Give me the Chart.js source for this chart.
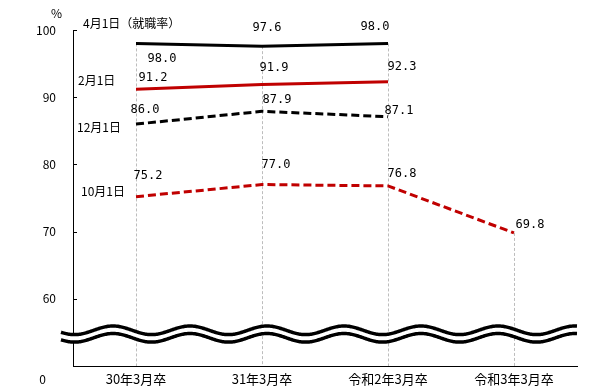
<!DOCTYPE html>
<html>
<head>
<meta charset="utf-8">
<script src="https://cdn.jsdelivr.net/npm/chart.js@4"></script>
<style>
  body { margin: 0; background: #fff; }
  #wrap { width: 613px; height: 391px; position: relative; }
</style>
</head>
<body>
<div id="wrap"><canvas id="rateChart"></canvas></div>
<script>
// data
const categories = ['30年3月卒', '31年3月卒', '令和2年3月卒', '令和3年3月卒'];
const apr1 = [98.0, 97.6, 98.0];
const feb1 = [91.2, 91.9, 92.3];
const dec1 = [86.0, 87.9, 87.1];
const oct1 = [75.2, 77.0, 76.8, 69.8];
const seriesNames = ['4月1日（就職率）', '2月1日', '12月1日', '10月1日'];
const yTicks = [60, 70, 80, 90, 100];
const yBreakValue = 50;   // bottom of the broken axis, labelled "0"
const unitLabel = '%';

const JP = "'Noto Sans CJK JP', sans-serif";
const NUM = "'DejaVu Sans Mono', monospace";
const RED = '#c00000';

// where each value label / series name sits next to its point
const valueOffsets = [
    [[26, 15], [5, -18], [-13, -17]],
    [[17, -11], [12, -17], [14, -15]],
    [[9, -14], [15, -11], [11, -6]],
    [[12, -21], [14, -20], [14, -12], [16, -8]]
];
const nameOffsets = [[-53, -20], [-58, -9], [-59, 3], [-55, -5]];

// vertical dotted drop lines from the highest point to the axis
const dropLines = {
    id: 'dropLines',
    beforeDatasetsDraw(chart) {
        const { ctx, chartArea, scales } = chart;
        ctx.save();
        ctx.strokeStyle = '#bdbdbd';
        ctx.lineWidth = 1;
        ctx.setLineDash([3, 2]);
        categories.forEach((c, i) => {
            const vals = chart.data.datasets.map(d => d.data[i]).filter(v => v != null);
            if (!vals.length) return;
            const x = Math.round(scales.x.getPixelForValue(i)) + 0.5;
            ctx.beginPath();
            ctx.moveTo(x, scales.y.getPixelForValue(Math.max(...vals)));
            ctx.lineTo(x, chartArea.bottom);
            ctx.stroke();
        });
        ctx.restore();
    }
};

// value labels, series names, inward ticks, "0" and "%", the wavy break
const decorations = {
    id: 'decorations',
    afterDraw(chart) {
        const { ctx, chartArea, scales } = chart;
        ctx.save();
        ctx.fillStyle = '#000';

        // value labels
        ctx.font = '12px ' + NUM;
        ctx.textAlign = 'center';
        ctx.textBaseline = 'middle';
        chart.data.datasets.forEach((ds, di) => {
            const meta = chart.getDatasetMeta(di);
            meta.data.forEach((pt, i) => {
                const o = valueOffsets[di][i];
                ctx.fillText(ds.data[i].toFixed(1), pt.x + o[0], pt.y + o[1]);
            });
        });

        // series names
        ctx.font = '12px ' + JP;
        ctx.textAlign = 'left';
        chart.data.datasets.forEach((ds, di) => {
            const pt = chart.getDatasetMeta(di).data[0];
            const o = nameOffsets[di];
            ctx.fillText(ds.label, pt.x + o[0], pt.y + o[1]);
        });

        // inward tick marks on y axis
        ctx.strokeStyle = '#000';
        ctx.lineWidth = 1;
        yTicks.forEach(v => {
            const y = Math.round(scales.y.getPixelForValue(v)) + 0.5;
            ctx.beginPath();
            ctx.moveTo(chartArea.left, y);
            ctx.lineTo(chartArea.left + 4, y);
            ctx.stroke();
        });

        // "0" under the break and the unit
        ctx.font = '12px ' + JP;
        ctx.textAlign = 'right';
        ctx.fillText('0', chartArea.left - 27, scales.y.getPixelForValue(yBreakValue) + 13);
        ctx.fillText(unitLabel, chartArea.left - 11, 13);

        // wavy axis break
        const x0 = chartArea.left - 12, x1 = chartArea.right;
        const yc = chartArea.bottom - 35.7, amp = 4.3, period = 77, gap = 7.5;
        const peakX = chartArea.left + 40;
        const wave = (x, dy) => yc + dy - amp * Math.cos(2 * Math.PI * (x - peakX) / period);
        ctx.beginPath();
        for (let x = x0; x <= x1; x += 1) ctx.lineTo(x, wave(x, 0));
        for (let x = x1; x >= x0; x -= 1) ctx.lineTo(x, wave(x, gap));
        ctx.closePath();
        ctx.fillStyle = '#fff';
        ctx.fill();
        ctx.strokeStyle = '#000';
        ctx.lineWidth = 3.5;
        [0, gap].forEach(dy => {
            ctx.beginPath();
            for (let x = x0; x <= x1; x += 1) ctx.lineTo(x, wave(x, dy));
            ctx.stroke();
        });
        ctx.restore();
    }
};

const ctx = document.getElementById('rateChart').getContext('2d');
new Chart(ctx, {
    type: 'line',
    data: {
        labels: categories,
        datasets: [
            { label: seriesNames[0], data: apr1, borderColor: '#000', borderWidth: 3 },
            { label: seriesNames[1], data: feb1, borderColor: RED, borderWidth: 3 },
            { label: seriesNames[2], data: dec1, borderColor: '#000', borderWidth: 3, borderDash: [8, 4] },
            { label: seriesNames[3], data: oct1, borderColor: RED, borderWidth: 3, borderDash: [8, 4] }
        ]
    },
    options: {
        responsive: true,
        maintainAspectRatio: false,
        animation: false,
        events: [],
        layout: { padding: { top: 30, right: 36, left: 0, bottom: 0 } },
        elements: {
            point: { radius: 0 },
            line: { tension: 0, fill: false }
        },
        plugins: {
            legend: { display: false },
            tooltip: { enabled: false }
        },
        scales: {
            x: {
                offset: true,
                grid: { display: false, drawTicks: false },
                border: { display: true, color: '#000', width: 1 },
                ticks: { color: '#000', font: { family: JP, size: 13 }, padding: 5, maxRotation: 0 },
                afterFit: s => { s.height = 25; }
            },
            y: {
                min: yBreakValue,
                max: 100,
                afterBuildTicks: s => { s.ticks = yTicks.map(v => ({ value: v })); },
                grid: { display: false, drawTicks: false },
                border: { display: true, color: '#000', width: 1 },
                ticks: { color: '#000', font: { family: JP, size: 12 }, padding: 17 },
                afterFit: s => { s.width = 73; }
            }
        }
    },
    plugins: [dropLines, decorations]
});
</script>
</body>
</html>
